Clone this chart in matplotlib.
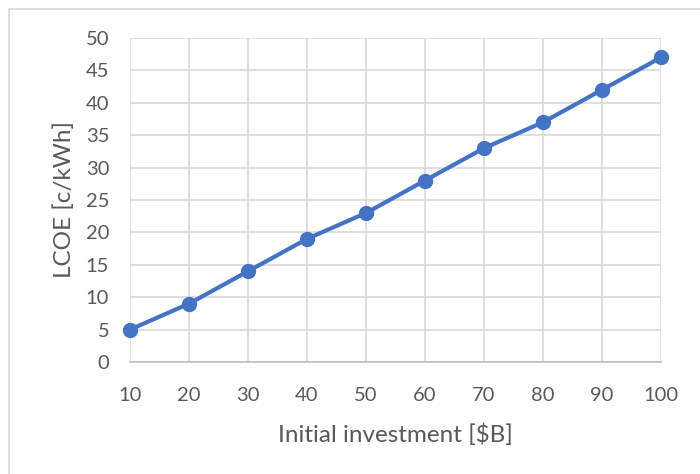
import matplotlib.pyplot as plt
from matplotlib.patches import Rectangle

# data
investment = [10, 20, 30, 40, 50, 60, 70, 80, 90, 100]
lcoe = [5, 9, 14, 19, 23, 28, 33, 37, 42, 47]

plt.rcParams['font.family'] = ['Lato', 'DejaVu Sans']

fig = plt.figure(figsize=(7, 4.74), dpi=100)
ax = fig.add_axes([130 / 700, 1 - 362 / 474, 531 / 700, 324 / 474])

ax.plot(investment, lcoe, color="#4472C4", linewidth=3, marker="o",
        markersize=10, zorder=3, clip_on=False)

ax.set_xlim(10, 100)
ax.set_ylim(0, 50)
ax.set_xticks(investment)
ax.set_yticks(range(0, 51, 5))

ax.grid(True, color="#D9D9D9", linewidth=1.2)
ax.set_axisbelow(True)
for side in ["top", "right", "left"]:
    ax.spines[side].set_visible(False)
ax.spines["bottom"].set_color("#BFBFBF")
ax.spines["bottom"].set_linewidth(1.2)

ax.tick_params(length=0, labelsize=14.5, labelcolor="#595959")
ax.tick_params(axis="x", pad=18)
ax.tick_params(axis="y", pad=15)

ax.set_xlabel("Initial investment [$B]", fontsize=17.5, color="#595959", labelpad=14)
ax.set_ylabel("LCOE [c/kWh]", fontsize=17.5, color="#595959", labelpad=8)

# outer chart border
fig.patches.append(Rectangle((9 / 700, -0.1), 1.2, 1 - 9 / 474 + 0.1,
                             transform=fig.transFigure, fill=False,
                             edgecolor="#D9D9D9", linewidth=1.2))

plt.savefig("out.png", dpi=100)
plt.close()
